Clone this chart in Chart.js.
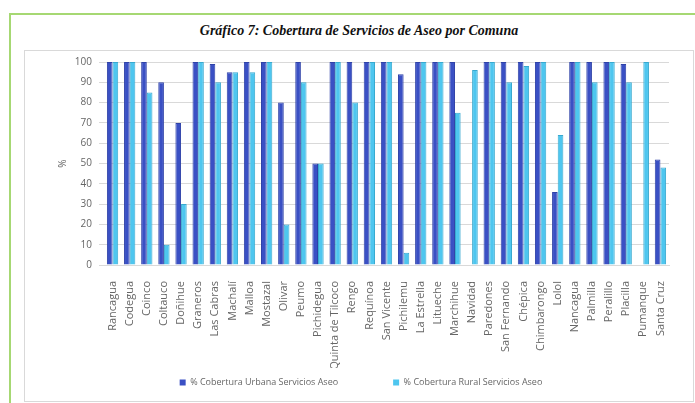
<!DOCTYPE html>
<html>
<head>
<meta charset="utf-8">
<script src="https://cdn.jsdelivr.net/npm/chart.js@4"></script>
<style>
  html, body { margin: 0; padding: 0; background: #fff; width: 695px; height: 403px; overflow: hidden; }
  #frame { position: absolute; left: 9px; top: 13px; width: 700px; height: 400px;
           border-left: 2px solid #a6d873; border-top: 2px solid #a6d873; }
  #title { position: absolute; left: 24px; top: 23px; width: 670px; text-align: center;
           font: italic bold 14px "Liberation Serif", serif; color: #111; }
  #box { position: absolute; left: 24px; top: 50px; width: 670px; height: 352px;
         border: 1px solid #d9d9d9; box-sizing: border-box; }
  #canvas { position: absolute; left: 0; top: 0; }
</style>
</head>
<body>
<div id="frame"></div>
<div id="title">Gráfico 7: Cobertura de Servicios de Aseo por Comuna</div>
<div id="box"><canvas id="canvas" width="670" height="352"></canvas></div>
<script>
const comunas = ['Rancagua','Codegua','Coinco','Coltauco','Doñihue','Graneros','Las Cabras','Machalí','Malloa','Mostazal',
  'Olivar','Peumo','Pichidegua','Quinta de Tilcoco','Rengo','Requínoa','San Vicente','Pichilemu','La Estrella','Litueche',
  'Marchihue','Navidad','Paredones','San Fernando','Chépica','Chimbarongo','Lolol','Nancagua','Palmilla','Peralillo',
  'Placilla','Pumanque','Santa Cruz'];
const urbana = [100,100,100,90,70,100,99,95,100,100, 80,100,50,100,100,100,100,94,100,100, 100,0,100,100,100,100,36,100,100,100, 99,0,52];
const rural  = [100,100,85,10,30,100,90,95,95,100, 20,90,50,100,80,100,100,6,100,100, 75,96,100,90,98,100,64,100,90,100, 90,100,48];
const yTicks = [0,10,20,30,40,50,60,70,80,90,100];

const gris = '#666666';
const data = {
    labels: comunas,
    datasets: [
        {
            label: '% Cobertura Urbana Servicios Aseo',
            backgroundColor: '#3a50c4',
            borderColor: '#2f42a8',
            borderWidth: 1,
            data: urbana,
        },
        {
            label: '% Cobertura Rural Servicios Aseo',
            backgroundColor: '#4ec6ef',
            borderColor: '#38a9cf',
            borderWidth: 1,
            data: rural,
        }
    ]
}
const config = {
    type: 'bar',
    data: data,
    options: {
        responsive: false,
        animation: false,
        layout: { padding: { top: 0, left: 28, right: 26, bottom: 6 } },
        datasets: { bar: { categoryPercentage: 0.66, barPercentage: 1.0 } },
        plugins: {
            tooltip: { enabled: false },
            legend: {
                position: 'bottom',
                labels: {
                    boxWidth: 6, boxHeight: 6, padding: 10,
                    color: gris,
                    font: { family: 'Open Sans', size: 9 },
                    generateLabels: function(chart) {
                        const items = Chart.defaults.plugins.legend.labels.generateLabels(chart);
                        items.forEach(it => { it.lineWidth = 0; });
                        items[0].text = items[0].text + '\u2003\u2003\u2003\u2003\u2003';
                        return items;
                    }
                }
            }
        },
        scales: {
            x: {
                grid: { display: false },
                border: { color: '#d9d9d9' },
                ticks: { minRotation: 90, maxRotation: 90, autoSkip: false, padding: 8,
                         color: gris, font: { family: 'Open Sans', size: 11 } },
                afterFit: function(scale) { scale.height = 103; }
            },
            y: {
                min: 0, max: 100,
                afterBuildTicks: function(scale) { scale.ticks = yTicks.map(v => ({ value: v })); },
                grid: { color: '#d9d9d9', tickLength: 5 },
                border: { display: false },
                ticks: { padding: 7, color: gris, font: { family: 'Open Sans', size: 10, lineHeight: 0.8 } },
                title: { display: true, text: '%', color: gris, font: { family: 'Open Sans', size: 10 } },
                afterFit: function(scale) { scale.width = 51; }
            }
        }
    }
}
const canvas = document.getElementById('canvas');
const chart = new Chart(canvas, config);
</script>
</body>
</html>
